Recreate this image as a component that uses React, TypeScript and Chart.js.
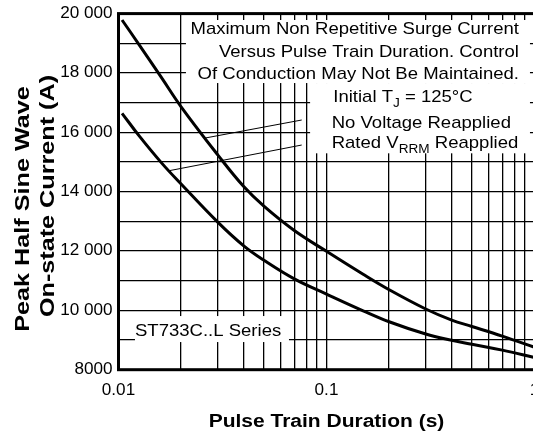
import React, { useEffect, useRef } from "react";
import { Chart, registerables } from "chart.js";

Chart.register(...registerables);

// ---- data ----
const durations = [0.0104, 0.0126, 0.0161, 0.02, 0.03, 0.04, 0.05, 0.07, 0.1, 0.15, 0.2, 0.3, 0.4, 0.5, 0.7, 1.0];
const noVoltageReapplied = [19784, 18940, 17840, 16860, 15240, 14170, 13510, 12690, 11990, 11216, 10696, 10045, 9670, 9457, 9130, 8756];
const ratedVrrmReapplied = [16640, 15870, 14970, 14257, 12972, 12172, 11687, 11059, 10548, 9985, 9615, 9201, 8990, 8857, 8660, 8410];

const xGridValues = [
  0.01, 0.02, 0.03, 0.04, 0.05, 0.06, 0.07, 0.08, 0.09,
  0.1, 0.2, 0.3, 0.4, 0.5, 0.6, 0.7, 0.8, 0.9, 1,
];
const xTickValues = [0.01, 0.1, 1];
const xTickLabels = ["0.01", "0.1", "1"];
const yTickValues = [20000, 18000, 16000, 14000, 12000, 10000, 8000];
const yTickLabels = ["20 000", "18 000", "16 000", "14 000", "12 000", "10 000", "8000"];

const xTitle = "Pulse Train Duration (s)";
const yTitleLines = ["Peak Half Sine Wave", "On-state Current (A)"];
const noteLines = [
  "Maximum Non Repetitive Surge Current",
  "Versus Pulse Train Duration. Control",
  "Of Conduction May Not Be Maintained.",
];
const seriesLabel = "ST733C..L Series";

// ---- layout (not data) ----
const W = 560;
const H = 444;
const AREA = { left: 118.5, right: 534.5, top: 13.6, bottom: 369.7 };
const FONT = "'Liberation Sans', Arial, Helvetica, sans-serif";

function txt(
  ctx: CanvasRenderingContext2D,
  s: string,
  x: number,
  y: number,
  font: string,
  align: CanvasTextAlign,
  sx: number,
  baseline: CanvasTextBaseline = "alphabetic",
  rot = 0
) {
  ctx.save();
  ctx.font = font;
  ctx.fillStyle = "#000";
  ctx.translate(x, y);
  if (rot) ctx.rotate(rot);
  ctx.scale(sx, 1);
  ctx.textAlign = align;
  ctx.textBaseline = baseline;
  ctx.fillText(s, 0, 0);
  ctx.restore();
}

// draw runs of text (with subscripts) left-aligned
function runs(
  ctx: CanvasRenderingContext2D,
  parts: { t: string; sub?: boolean }[],
  x: number,
  y: number,
  sx: number
) {
  let cx = x;
  for (const p of parts) {
    const font = p.sub ? `12.5px ${FONT}` : `17px ${FONT}`;
    ctx.save();
    ctx.font = font;
    const w = ctx.measureText(p.t).width * sx;
    ctx.restore();
    txt(ctx, p.t, cx, y + (p.sub ? 5 : 0), font, "left", sx);
    cx += w;
  }
}

const annotationPlugin = {
  id: "annotations",
  beforeDatasetsDraw(chart: any) {
    const { ctx, scales } = chart;
    const xs = scales.x;
    const ys = scales.y;
    const px = (v: number) => xs.getPixelForValue(v);
    const py = (v: number) => ys.getPixelForValue(v);
    ctx.save();
    ctx.fillStyle = "#fff";
    const box = (x0: number, x1: number, y0: number, y1: number) => {
      ctx.fillRect(px(x0), py(y1), px(x1) - px(x0), py(y0) - py(y1));
    };
    box(0.0211, 0.951, 17660, 19784);
    box(0.0834, 0.951, 15292, 17660);
    box(0.012, 0.066, 8932, 9808);
    // leader lines
    ctx.strokeStyle = "#000";
    ctx.lineWidth = 1;
    ctx.beginPath();
    ctx.moveTo(px(0.0261), py(15807));
    ctx.lineTo(px(0.076), py(16414));
    ctx.moveTo(px(0.0175), py(14705));
    ctx.lineTo(px(0.076), py(15571));
    ctx.stroke();
    ctx.restore();
  },
  afterDatasetsDraw(chart: any) {
    const { ctx, scales, chartArea } = chart;
    const xs = scales.x;
    const ys = scales.y;
    const px = (v: number) => xs.getPixelForValue(v);
    const py = (v: number) => ys.getPixelForValue(v);

    // frame
    ctx.save();
    ctx.strokeStyle = "#000";
    ctx.lineWidth = 3;
    ctx.strokeRect(chartArea.left, chartArea.top, chartArea.right - chartArea.left, chartArea.bottom - chartArea.top);
    ctx.restore();

    // tick labels
    const tickFont = `16px ${FONT}`;
    yTickValues.forEach((v, i) => {
      txt(ctx, yTickLabels[i], chartArea.left - 6, py(v), tickFont, "right", 1.07, "middle");
    });
    xTickValues.forEach((v, i) => {
      txt(ctx, xTickLabels[i], px(v), chartArea.bottom + 25, tickFont, "center", 1.07);
    });

    // axis titles
    txt(ctx, xTitle, (chartArea.left + chartArea.right) / 2, 426.7, `bold 17.5px ${FONT}`, "center", 1.2);
    txt(ctx, yTitleLines[0], 29, 209, `bold 20px ${FONT}`, "center", 1.26, "alphabetic", -Math.PI / 2);
    txt(ctx, yTitleLines[1], 53.5, 196, `bold 20px ${FONT}`, "center", 1.26, "alphabetic", -Math.PI / 2);

    // notes
    const noteFont = `17px ${FONT}`;
    const noteY = [19302, 18547, 17796];
    noteLines.forEach((s, i) => txt(ctx, s, px(0.842), py(noteY[i]), noteFont, "right", 1.09));
    runs(ctx, [{ t: "Initial T" }, { t: "J", sub: true }, { t: " = 125°C" }], px(0.1078), py(17031), 1.09);
    runs(ctx, [{ t: "No Voltage Reapplied" }], px(0.1059), py(16154), 1.09);
    runs(ctx, [{ t: "Rated V" }, { t: "RRM", sub: true }, { t: " Reapplied" }], px(0.1059), py(15480), 1.09);
    txt(ctx, seriesLabel, px(0.012), py(9134), noteFont, "left", 1.09);
  },
};

export default function App() {
  const ref = useRef<HTMLCanvasElement | null>(null);
  useEffect(() => {
    if (!ref.current) return;
    const mk = (vals: number[]) => durations.map((x, i) => ({ x, y: vals[i] }));
    const ds = (vals: number[]) => ({
      data: mk(vals),
      borderColor: "#000",
      borderWidth: 3,
      pointRadius: 0,
      fill: false,
      tension: 0.4,
    });
    const chart = new Chart(ref.current, {
      type: "line",
      data: { datasets: [ds(noVoltageReapplied), ds(ratedVrrmReapplied)] },
      options: {
        animation: false,
        responsive: false,
        devicePixelRatio: 1,
        layout: {
          padding: { left: AREA.left, right: W - AREA.right, top: AREA.top, bottom: H - AREA.bottom },
        },
        plugins: { legend: { display: false }, tooltip: { enabled: false } },
        scales: {
          x: {
            type: "logarithmic",
            min: 0.01,
            max: 1,
            ticks: { display: false },
            grid: { color: "#000", lineWidth: 1.3, drawTicks: false },
            border: { display: false },
            afterBuildTicks: (s: any) => {
              s.ticks = xGridValues.map((v) => ({ value: v }));
            },
          },
          y: {
            type: "linear",
            min: 8000,
            max: 20000,
            ticks: { display: false, stepSize: 1000 },
            grid: { color: "#000", lineWidth: 1.3, drawTicks: false },
            border: { display: false },
          },
        },
      },
      plugins: [annotationPlugin],
    } as any);
    return () => chart.destroy();
  }, []);
  return (
    <div style={{ position: "fixed", left: 0, top: 0, width: 533, height: 444, overflow: "hidden", background: "#fff" }}>
      <canvas ref={ref} width={W} height={H} style={{ display: "block", width: W, height: H }} />
    </div>
  );
}
